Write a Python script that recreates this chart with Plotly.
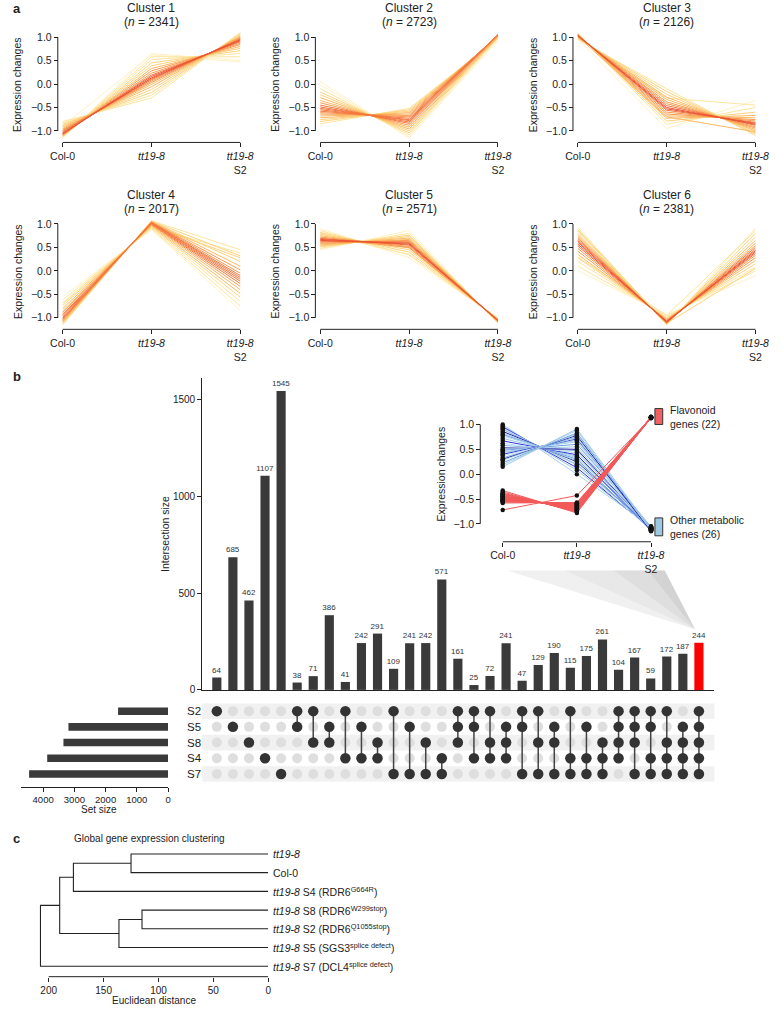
import numpy as np
import plotly.graph_objects as go

W, H = 782, 1013
def fx(p): return p / W
def fy(p): return 1 - p / H

FONT = "Liberation Sans, Arial, Helvetica, sans-serif"

# ---------------- panel a data ----------------
stage_ticks = ["Col-0", "<i>tt19-8</i>", "<i>tt19-8</i><br>S2"]
cluster_names = ["Cluster 1", "Cluster 2", "Cluster 3", "Cluster 4", "Cluster 5", "Cluster 6"]
cluster_sizes = [2341, 2723, 2126, 2017, 2571, 2381]

c1_col0 = [-0.80, -0.83, -0.86, -0.89, -0.92, -0.95, -0.97, -0.99, -1.01, -1.03, -1.05, -1.06, -1.07, -1.08, -1.09, -1.10, -1.11, -1.12, -1.13, -1.14, -1.15, -0.90]
c1_tt19 = [-0.30, -0.24, -0.18, -0.12, -0.06, -0.01, 0.03, 0.06, 0.09, 0.11, 0.13, 0.16, 0.19, 0.23, 0.28, 0.33, 0.39, 0.45, 0.52, 0.58, 0.65, 0.62]
c1_s2 = [1.10, 1.08, 1.06, 1.04, 1.02, 1.00, 0.99, 0.97, 0.96, 0.95, 0.94, 0.92, 0.90, 0.87, 0.84, 0.80, 0.76, 0.71, 0.65, 0.58, 0.50, 0.47]

c2_col0 = [0.05, -0.02, -0.10, -0.17, -0.23, -0.29, -0.35, -0.40, -0.45, -0.49, -0.52, -0.55, -0.58, -0.61, -0.64, -0.68, -0.72, -0.76, -0.80, -0.85]
c2_tt19 = [-1.15, -1.12, -1.08, -1.04, -1.00, -0.96, -0.92, -0.88, -0.84, -0.81, -0.78, -0.76, -0.73, -0.70, -0.67, -0.64, -0.61, -0.58, -0.55, -0.52]
c2_s2 = [0.92, 0.95, 0.97, 0.99, 1.00, 1.01, 1.02, 1.03, 1.04, 1.05, 1.05, 1.05, 1.04, 1.04, 1.03, 1.02, 1.01, 1.00, 0.98, 0.96]

c3_col0 = [0.95, 0.97, 0.98, 0.99, 1.00, 1.01, 1.02, 1.02, 1.03, 1.03, 1.04, 1.04, 1.05, 1.05, 1.06, 1.07, 1.08, 0.96, 1.00, 1.01]
c3_tt19 = [-0.10, -0.16, -0.22, -0.28, -0.33, -0.38, -0.42, -0.46, -0.50, -0.53, -0.56, -0.60, -0.64, -0.68, -0.73, -0.79, -0.86, -0.95, -0.30, -0.70]
c3_s2 = [-1.10, -1.07, -1.04, -1.00, -0.97, -0.94, -0.91, -0.88, -0.86, -0.84, -0.82, -0.79, -0.76, -0.72, -0.67, -0.60, -0.50, -0.35, -0.45, -1.02]

c4_col0 = [-0.55, -0.62, -0.68, -0.74, -0.80, -0.85, -0.89, -0.93, -0.96, -0.99, -1.01, -1.03, -1.05, -1.07, -1.09, -1.11, -1.13, -1.15, -0.70, -0.88]
c4_tt19 = [0.88, 0.90, 0.92, 0.94, 0.96, 0.98, 0.99, 1.00, 1.01, 1.02, 1.03, 1.03, 1.04, 1.04, 1.05, 1.05, 1.06, 1.07, 0.93, 0.97]
c4_s2 = [-0.85, -0.75, -0.65, -0.56, -0.48, -0.40, -0.33, -0.27, -0.22, -0.18, -0.14, -0.10, -0.05, 0.02, 0.10, 0.20, 0.32, 0.45, 0.38, 0.28]

c5_col0 = [0.90, 0.86, 0.82, 0.78, 0.75, 0.72, 0.69, 0.67, 0.65, 0.63, 0.61, 0.59, 0.57, 0.55, 0.53, 0.51, 0.48, 0.45, 0.80, 0.70]
c5_tt19 = [0.28, 0.34, 0.40, 0.45, 0.49, 0.52, 0.55, 0.57, 0.59, 0.61, 0.63, 0.65, 0.67, 0.70, 0.73, 0.76, 0.80, 0.86, 0.35, 0.50]
c5_s2 = [-1.00, -1.01, -1.02, -1.03, -1.04, -1.04, -1.05, -1.05, -1.06, -1.06, -1.07, -1.07, -1.08, -1.08, -1.09, -1.10, -1.11, -1.12, -1.02, -1.05]

c6_col0 = [0.00, 0.10, 0.20, 0.28, 0.35, 0.42, 0.48, 0.53, 0.57, 0.61, 0.64, 0.67, 0.70, 0.73, 0.76, 0.80, 0.85, 0.92, 0.30, 0.88]
c6_tt19 = [-0.93, -0.96, -0.99, -1.01, -1.03, -1.05, -1.06, -1.07, -1.08, -1.09, -1.10, -1.10, -1.11, -1.12, -1.12, -1.13, -1.14, -1.15, -0.95, -1.12]
c6_s2 = [-0.10, 0.00, 0.08, 0.15, 0.22, 0.28, 0.33, 0.37, 0.40, 0.43, 0.46, 0.50, 0.54, 0.59, 0.65, 0.72, 0.80, 0.90, 0.85, 0.05]

clusters = [(c1_col0, c1_tt19, c1_s2), (c2_col0, c2_tt19, c2_s2), (c3_col0, c3_tt19, c3_s2),
            (c4_col0, c4_tt19, c4_s2), (c5_col0, c5_tt19, c5_s2), (c6_col0, c6_tt19, c6_s2)]

# ---------------- panel b data ----------------
set_names = ["S2", "S5", "S8", "S4", "S7"]
set_sizes = [1600, 3190, 3350, 3870, 4450]
intersections = [
    ("S2",), ("S5",), ("S8",), ("S4",), ("S7",),
    ("S2", "S5"), ("S2", "S8"), ("S5", "S8"), ("S2", "S4"), ("S5", "S4"), ("S8", "S4"),
    ("S2", "S7"), ("S5", "S7"), ("S8", "S7"), ("S4", "S7"),
    ("S2", "S5", "S8"), ("S2", "S5", "S4"), ("S2", "S8", "S4"), ("S5", "S8", "S4"),
    ("S2", "S5", "S7"), ("S2", "S8", "S7"), ("S5", "S8", "S7"),
    ("S2", "S4", "S7"), ("S5", "S4", "S7"), ("S8", "S4", "S7"),
    ("S2", "S5", "S8", "S4"), ("S2", "S5", "S8", "S7"), ("S2", "S5", "S4", "S7"),
    ("S2", "S8", "S4", "S7"), ("S5", "S8", "S4", "S7"),
    ("S2", "S5", "S8", "S4", "S7")]
intersection_sizes = [64, 685, 462, 1107, 1545, 38, 71, 386, 41, 242, 291, 109, 241, 242, 571,
                      161, 25, 72, 241, 47, 129, 190, 115, 175, 261, 104, 167, 59, 172, 187, 244]
highlight_index = 30

# inset
flav_col0 = [-0.33, -0.36, -0.38, -0.40, -0.41, -0.43, -0.44, -0.45, -0.46, -0.47, -0.48, -0.49, -0.50, -0.51, -0.52, -0.53, -0.54, -0.55, -0.56, -0.58, -0.72, -0.40]
flav_tt19 = [-0.78, -0.76, -0.75, -0.73, -0.72, -0.71, -0.70, -0.69, -0.68, -0.67, -0.66, -0.65, -0.64, -0.63, -0.62, -0.61, -0.60, -0.59, -0.58, -0.57, -0.43, -0.74]
flav_s2 = [1.15, 1.14, 1.15, 1.13, 1.14, 1.15, 1.14, 1.13, 1.15, 1.14, 1.13, 1.15, 1.14, 1.13, 1.14, 1.15, 1.13, 1.14, 1.15, 1.14, 1.13, 1.14]
other_col0 = [1.00, 0.97, 0.95, 0.92, 0.90, 0.86, 0.83, 0.80, 0.77, 0.72, 0.67, 0.62, 0.58, 0.53, 0.50, 0.48, 0.45, 0.43, 0.40, 0.37, 0.33, 0.30, 0.28, 0.23, 0.19, 0.15]
other_tt19 = [0.00, 0.08, 0.13, 0.18, 0.20, 0.25, 0.27, 0.30, 0.33, 0.36, 0.39, 0.43, 0.47, 0.50, 0.55, 0.60, 0.65, 0.68, 0.71, 0.73, 0.75, 0.78, 0.80, 0.83, 0.88, 0.91]
other_s2 = [-1.05, -1.08, -1.10, -1.12, -1.07, -1.09, -1.11, -1.13, -1.06, -1.10, -1.12, -1.08, -1.14, -1.09, -1.11, -1.07, -1.13, -1.10, -1.08, -1.12, -1.06, -1.15, -1.09, -1.11, -1.13, -1.10]

# ---------------- panel c data ----------------
leaf_labels = ["<i>tt19-8</i>", "Col-0",
               "<i>tt19-8</i> S4 (RDR6<sup>G664R</sup>)",
               "<i>tt19-8</i> S8 (RDR6<sup>W299stop</sup>)",
               "<i>tt19-8</i> S2 (RDR6<sup>Q1055stop</sup>)",
               "<i>tt19-8</i> S5 (SGS3<sup>splice defect</sup>)",
               "<i>tt19-8</i> S7 (DCL4<sup>splice defect</sup>)"]
# (child a, child b, distance); new node ids start at len(leaves)
merges = [(0, 1, 125), (7, 2, 177.5), (3, 4, 115), (9, 5, 136), (8, 10, 190), (11, 6, 207.5)]

fig = go.Figure()
shapes, annos = [], []
layout_axes = {}

def note(text, x, y, size=10.5, xref="paper", yref="paper", xanchor="center", yanchor="middle", **kw):
    d = dict(text=text, x=x, y=y, xref=xref, yref=yref, xanchor=xanchor, yanchor=yanchor, showarrow=False,
             font=dict(family=FONT, size=size, color="#222"))
    d.update(kw)
    annos.append(d)

def axnames(k):
    return ("x" if k == 1 else f"x{k}", "y" if k == 1 else f"y{k}",
            "xaxis" if k == 1 else f"xaxis{k}", "yaxis" if k == 1 else f"yaxis{k}")

tickfont = dict(family=FONT, size=10.5, color="#222")
palette = ["#e3342a", "#ec5232", "#f4773e", "#f99a4e", "#fcb862", "#fdd27c", "#fee59e", "#fff2c6"]

# ---------------- panel a ----------------
for k in range(1, 7):
    r, c = (k - 1) // 3, (k - 1) % 3
    xa, ya, xk, yk = axnames(k)
    Y1 = 37.3 + 188 * r
    ppy = 47.2
    yr = [-1.22, 1.15]
    dom_top = Y1 - (yr[1] - 1.0) * ppy
    dom_bot = Y1 + (1.0 - yr[0]) * ppy
    x0 = 55 + 264 * c
    ppx = 91
    xr = [-0.04, 2.04]
    xaxis_y = Y1 + 106
    yaxis_x = 50 + 264 * c
    layout_axes[xk] = dict(domain=[fx(x0 + xr[0] * ppx), fx(x0 + xr[1] * ppx)], range=xr,
                           anchor="free", position=fy(xaxis_y), tickvals=[0, 1, 2], ticktext=stage_ticks,
                           ticks="outside", ticklen=4, tickcolor="#222", showline=False, showgrid=False,
                           zeroline=False, tickfont=tickfont)
    layout_axes[yk] = dict(domain=[fy(dom_bot), fy(dom_top)], range=yr, anchor="free", position=fx(yaxis_x),
                           tickvals=[-1, -0.5, 0, 0.5, 1], tickformat=".1f", ticks="outside", ticklen=4,
                           tickcolor="#222", showline=False, showgrid=False, zeroline=False, tickfont=tickfont)
    shapes.append(dict(type="line", xref=xa, yref="paper", x0=0, x1=2, y0=fy(xaxis_y), y1=fy(xaxis_y),
                       line=dict(color="#222", width=1)))
    shapes.append(dict(type="line", xref="paper", yref=ya, x0=fx(yaxis_x), x1=fx(yaxis_x), y0=-1, y1=1,
                       line=dict(color="#222", width=1)))
    col0, tt, s2 = clusters[k - 1]
    arr = np.array([col0, tt, s2]).T
    med = np.median(arr, axis=0)
    d = np.sqrt(((arr - med) ** 2).sum(axis=1))
    dn = (d / d.max()) ** 0.55
    order = np.argsort(-d)
    for i in order:
        ci = int(round(dn[i] * (len(palette) - 1)))
        fig.add_trace(go.Scatter(x=[0, 1, 2], y=list(arr[i]), mode="lines", xaxis=xa, yaxis=ya,
                                 line=dict(color=palette[ci], width=1), hoverinfo="skip", showlegend=False))
    cx = x0 + 91
    note(cluster_names[k - 1], fx(cx), fy(Y1 - 29), size=12)
    note(f"(<i>n</i> = {cluster_sizes[k - 1]})", fx(cx), fy(Y1 - 15), size=12)
    note("Expression changes", fx(9 + 264 * c), fy(Y1 + 47.5), textangle=-90)

# ---------------- panel b: intersection bars ----------------
col_px0, col_step = 213.0, 16.47
bx_range = [-(col_px0 - 198) / col_step, (723 - col_px0) / col_step]
layout_axes["xaxis7"] = dict(domain=[fx(198), fx(723)], range=bx_range, anchor="y7", showline=True,
                             linecolor="#222", linewidth=1, ticks="", showticklabels=False, showgrid=False,
                             zeroline=False)
layout_axes["yaxis7"] = dict(domain=[fy(694), fy(380)], range=[0, 1613], anchor="x7", showline=True,
                             linecolor="#222", linewidth=1, ticks="outside", ticklen=4, tickcolor="#222",
                             tickvals=[0, 500, 1000, 1500], showgrid=False, zeroline=False,
                             tickfont=dict(family=FONT, size=10, color="#222"))
bar_colors = ["#ff0000" if i == highlight_index else "#3a3a3a" for i in range(len(intersection_sizes))]
fig.add_trace(go.Bar(x=list(range(len(intersection_sizes))), y=intersection_sizes, xaxis="x7", yaxis="y7",
                     marker=dict(color=bar_colors, line=dict(width=0)), width=0.57,
                     text=[str(v) for v in intersection_sizes], textposition="outside", constraintext="none",
                     textfont=dict(family=FONT, size=8, color="#333"), cliponaxis=False,
                     hoverinfo="skip", showlegend=False))
note("Intersection size", fx(160), fy(537), textangle=-90)

# ---------------- panel b: matrix ----------------
layout_axes["xaxis8"] = dict(domain=[fx(198), fx(723)], range=bx_range, anchor="y8", visible=False)
layout_axes["yaxis8"] = dict(domain=[fy(786.5), fy(707.5)], range=[4.5, -0.5], anchor="x8",
                             tickvals=list(range(5)), ticktext=set_names, ticks="", showline=False,
                             showgrid=False, zeroline=False, tickfont=dict(family=FONT, size=11.5, color="#222"))
for j in range(0, 5, 2):
    shapes.append(dict(type="rect", xref="paper", yref="y8", x0=fx(198), x1=fx(723), y0=j - 0.5, y1=j + 0.5,
                       fillcolor="#f1f1f1", line=dict(width=0), layer="below"))
lx, ly, dx, dy, vx, vy = [], [], [], [], [], []
for i, combo in enumerate(intersections):
    rows = [set_names.index(s) for s in combo]
    for j in range(len(set_names)):
        if j in rows:
            dx.append(i); dy.append(j)
        else:
            lx.append(i); ly.append(j)
    if len(rows) > 1:
        vx += [i, i, None]; vy += [min(rows), max(rows), None]
fig.add_trace(go.Scatter(x=lx, y=ly, mode="markers", xaxis="x8", yaxis="y8",
                         marker=dict(size=10, color="#dedede"), hoverinfo="skip", showlegend=False))
fig.add_trace(go.Scatter(x=vx, y=vy, mode="lines", xaxis="x8", yaxis="y8",
                         line=dict(color="#444", width=1.5), hoverinfo="skip", showlegend=False))
fig.add_trace(go.Scatter(x=dx, y=dy, mode="markers", xaxis="x8", yaxis="y8",
                         marker=dict(size=10.5, color="#333"), hoverinfo="skip", showlegend=False))

# ---------------- panel b: set sizes ----------------
layout_axes["xaxis9"] = dict(domain=[fx(12.6), fx(163)], range=[4700, 0], anchor="free", position=fy(791.5),
                             showline=True, linecolor="#222", linewidth=1, ticks="outside", ticklen=4,
                             tickcolor="#222", tickvals=[0, 1000, 2000, 3000, 4000], showgrid=False,
                             zeroline=False, tickfont=dict(family=FONT, size=9.5, color="#222"))
layout_axes["yaxis9"] = dict(domain=[fy(786.5), fy(707.5)], range=[4.5, -0.5], anchor="x9", visible=False)
fig.add_trace(go.Bar(x=set_sizes, y=list(range(5)), orientation="h", xaxis="x9", yaxis="y9", width=0.48,
                     marker=dict(color="#3a3a3a", line=dict(width=0)), hoverinfo="skip", showlegend=False))
note("Set size", fx(92), fy(814), size=10)

# ---------------- panel b: inset ----------------
ippx, ippy = 76, 50
ix0, iy1 = 506, 427
ixr, iyr = [-0.12, 2.1], [-1.3, 1.25]
layout_axes["xaxis10"] = dict(domain=[fx(ix0 + ixr[0] * ippx), fx(ix0 + ixr[1] * ippx)], range=ixr,
                              anchor="free", position=fy(545), tickvals=[0, 1, 2], ticktext=stage_ticks,
                              ticks="outside", ticklen=4, tickcolor="#222", showline=False, showgrid=False,
                              zeroline=False, tickfont=tickfont)
layout_axes["yaxis10"] = dict(domain=[fy(iy1 + (1 - iyr[0]) * ippy), fy(iy1 - (iyr[1] - 1) * ippy)], range=iyr,
                              anchor="free", position=fx(483), tickvals=[-1, -0.5, 0, 0.5, 1], tickformat=".1f",
                              ticks="outside", ticklen=4, tickcolor="#222", showline=False, showgrid=False,
                              zeroline=False, tickfont=tickfont)
shapes.append(dict(type="line", xref="x10", yref="paper", x0=0, x1=2, y0=fy(545), y1=fy(545),
                   line=dict(color="#222", width=1)))
shapes.append(dict(type="line", xref="paper", yref="y10", x0=fx(483), x1=fx(483), y0=-1, y1=1,
                   line=dict(color="#222", width=1)))
blue_cycle = ["#a9d0ec", "#9ecae1", "#3434dc", "#b9dcf2", "#8cbde0", "#1d1da5", "#a4cde8", "#6f9fe6"]
for i in range(len(other_col0)):
    fig.add_trace(go.Scatter(x=[0, 1, 2], y=[other_col0[i], other_tt19[i], other_s2[i]], mode="lines",
                             xaxis="x10", yaxis="y10", line=dict(color=blue_cycle[i % len(blue_cycle)], width=1),
                             hoverinfo="skip", showlegend=False))
for i in range(len(flav_col0)):
    fig.add_trace(go.Scatter(x=[0, 1, 2], y=[flav_col0[i], flav_tt19[i], flav_s2[i]], mode="lines",
                             xaxis="x10", yaxis="y10", line=dict(color="#f25a5a", width=1),
                             hoverinfo="skip", showlegend=False))
px_, py_ = [], []
for a, b, cc in [(other_col0, other_tt19, other_s2), (flav_col0, flav_tt19, flav_s2)]:
    for i in range(len(a)):
        px_ += [0, 1, 2]; py_ += [a[i], b[i], cc[i]]
fig.add_trace(go.Scatter(x=px_, y=py_, mode="markers", xaxis="x10", yaxis="y10",
                         marker=dict(size=4.5, color="#111"), hoverinfo="skip", showlegend=False))
note("Expression changes", fx(443), fy(477), textangle=-90)
shapes.append(dict(type="rect", xref="paper", yref="paper", x0=fx(662), x1=fx(670), y0=fy(427), y1=fy(411),
                   fillcolor="#f26262", line=dict(color="#333", width=1)))
shapes.append(dict(type="rect", xref="paper", yref="paper", x0=fx(662), x1=fx(670), y0=fy(539), y1=fy(521),
                   fillcolor="#9ecae1", line=dict(color="#333", width=1)))
note("Flavonoid<br>genes (22)", fx(675), fy(419), xanchor="left", align="left")
note("Other metabolic<br>genes (26)", fx(675), fy(530), xanchor="left", align="left")

# connector (zoom wedge)
apex = (703, 633)
for left, col in [(511, "rgba(236,236,236,0.8)"), (570, "rgba(215,215,215,0.3)"),
                  (620, "rgba(200,200,200,0.3)"), (655, "rgba(185,185,185,0.3)")]:
    path = (f"M {fx(left)},{fy(574)} L {fx(672)},{fy(574)} L {fx(apex[0])},{fy(apex[1])} Z")
    shapes.append(dict(type="path", xref="paper", yref="paper", path=path, fillcolor=col,
                       line=dict(width=0), layer="below"))

# ---------------- panel c: dendrogram ----------------
dppx = 1.125
layout_axes["xaxis11"] = dict(domain=[fx(265.7 - 212 * dppx), fx(265.7)], range=[212, 0], anchor="free",
                              position=fy(982.5), tickvals=[0, 50, 100, 150, 200], ticks="outside", ticklen=4,
                              tickcolor="#222", showline=False, showgrid=False, zeroline=False,
                              tickfont=dict(family=FONT, size=10, color="#222"))
layout_axes["yaxis11"] = dict(domain=[fy(981.4), fy(849.6)], range=[6.5, -0.5], anchor="x11", visible=False)
shapes.append(dict(type="line", xref="x11", yref="paper", x0=0, x1=200, y0=fy(982.5), y1=fy(982.5),
                   line=dict(color="#222", width=1)))
nleaf = len(leaf_labels)
pos = {i: (0.0, float(i)) for i in range(nleaf)}
dxs, dys = [], []
for k, (a, b, h) in enumerate(merges):
    ha, ya_ = pos[a]; hb, yb_ = pos[b]
    dxs += [ha, h, h, hb, None]; dys += [ya_, ya_, yb_, yb_, None]
    pos[nleaf + k] = (h, (ya_ + yb_) / 2)
fig.add_trace(go.Scatter(x=dxs, y=dys, mode="lines", xaxis="x11", yaxis="y11",
                         line=dict(color="#222", width=1.1), hoverinfo="skip", showlegend=False))
for i, lab in enumerate(leaf_labels):
    note(lab, fx(269), i, yref="y11", xanchor="left")
note("Global gene expression clustering", fx(65), fy(843), size=10, xanchor="left")
note("Euclidean distance", fx(149), fy(1006), size=10)

# panel letters
for letter, yy in [("a", 9), ("b", 379), ("c", 843)]:
    note(f"<b>{letter}</b>", fx(2), fy(yy), size=13, xanchor="left")

fig.update_layout(width=W, height=H, margin=dict(l=0, r=0, t=0, b=0), plot_bgcolor="white",
                  paper_bgcolor="white", showlegend=False, shapes=shapes, annotations=annos,
                  font=dict(family=FONT, size=10.5, color="#222"), **layout_axes)

fig.write_html("out.html", config={"displayModeBar": False, "staticPlot": True},
               post_script="document.body.style.margin='0';document.body.style.overflow='hidden';")
